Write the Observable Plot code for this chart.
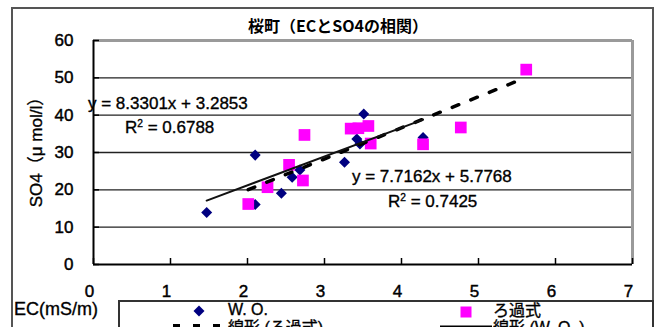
<!DOCTYPE html>
<html><head><meta charset="utf-8">
<script src="https://cdn.jsdelivr.net/npm/d3@7"></script>
<script src="https://cdn.jsdelivr.net/npm/@observablehq/plot@0.6"></script>
<style>
body{margin:0;background:#fff;}
#wrap{position:relative;width:656px;height:327px;overflow:hidden;background:#fff;font-family:"Liberation Sans",Arial,"Noto Sans CJK JP",sans-serif;color:#000;}
#wrap svg.plot{position:absolute;left:0;top:0;}
#wrap svg.plot text{stroke:#000;stroke-width:0.45px;paint-order:stroke;}
.t{position:absolute;white-space:nowrap;line-height:1;transform:translateY(-50%);-webkit-text-stroke:0.35px #000;}
.t sup{font-size:60%;vertical-align:0.55em;line-height:0;}
</style></head><body><div id="wrap"></div>
<script>
// ---- data ----
const xTicks = [0,1,2,3,4,5,6,7];
const yTicks = [0,10,20,30,40,50,60];
const yGrid = [10,20,30,40,50];
const woEC  = [1.47,2.10,2.10,2.44,2.58,2.68,3.26,3.42,3.46,3.51,4.28];
const woSO4 = [13.9,29.3,16.1,19.1,23.4,25.3,27.4,33.6,32.3,40.3,34.0];
const fEC   = [2.01,2.26,2.54,2.72,2.74,3.34,3.44,3.57,3.60,4.28,4.77,5.62];
const fSO4  = [16.2,20.7,26.7,22.5,34.7,36.4,36.5,37.1,32.4,32.2,36.7,52.2];
const seriesNames = ["W. O.","ろ過式"];
const fitNames = ["線形 (ろ過式)","線形 (W. O. )"];
const fitSlope = [7.7162, 8.3301];      // W.O., ろ過式
const fitIntercept = [5.7768, 3.2853];
const fitR2 = [0.7425, 0.6788];

const wo = woEC.map((x,i)=>({x, y: woSO4[i]}));
const fl = fEC.map((x,i)=>({x, y: fSO4[i]}));
function fitLine(xs, k){ return d3.extent(xs).map(x=>({x, y: fitSlope[k]*x + fitIntercept[k]})); }

const diamondSym = {draw(ctx, size){ const h = Math.sqrt(size/2); ctx.moveTo(0,-h); ctx.lineTo(h,0); ctx.lineTo(0,h); ctx.lineTo(-h,0); ctx.closePath(); }};

const chart = Plot.plot({
  width:656, height:327, marginLeft:93, marginRight:24, marginTop:40, marginBottom:63,
  style:{fontFamily:'"Liberation Sans",Arial,sans-serif', fontSize:"17px", color:"#000", background:"transparent", overflow:"visible"},
  x:{domain:[xTicks[0], xTicks[xTicks.length-1]]},
  y:{domain:[yTicks[0], yTicks[yTicks.length-1]]},
  marks:[
    Plot.ruleY(yGrid, {stroke:"#222", strokeWidth:1.3}),
    Plot.ruleY([yTicks[yTicks.length-1]], {stroke:"#9a9a9a", strokeWidth:3}),
    Plot.ruleX([xTicks[xTicks.length-1]], {stroke:"#9a9a9a", strokeWidth:3}),
    Plot.tickX(xTicks, {x:d=>d, insetTop:218, stroke:"#000", strokeWidth:1.5}),
    Plot.tickY(yTicks, {y:d=>d, insetRight:533, stroke:"#000", strokeWidth:1.5}),
    Plot.ruleX([xTicks[0]], {stroke:"#000", strokeWidth:2}),
    Plot.ruleY([yTicks[0]], {stroke:"#000", strokeWidth:2}),
    Plot.axisX(xTicks, {tickSize:0, tickPadding:20, dx:-4, label:null, fontSize:17}),
    Plot.axisY(yTicks, {tickSize:0, tickPadding:20, label:null, fontSize:17}),
    Plot.dot(wo, {x:"x", y:"y", symbol:diamondSym, r:4.4, fill:"#000080"}),
    Plot.dot(fl, {x:"x", y:"y", symbol:"square", r:6.6, fill:"#ff00ff"}),
    Plot.line(fitLine(fEC,1), {x:"x", y:"y", stroke:"#000", strokeWidth:3.5, strokeDasharray:"7,13"}),
    Plot.line(fitLine(woEC,0), {x:"x", y:"y", stroke:"#111", strokeWidth:2})
  ]
});
const wrap = document.getElementById("wrap");
chart.classList.add("plot");
wrap.appendChild(chart);

function addText(html, left, cy, style){
  const d = document.createElement("div");
  d.className = "t"; d.innerHTML = html;
  d.style.left = left + "px"; d.style.top = cy + "px";
  Object.assign(d.style, style||{});
  wrap.appendChild(d); return d;
}
function addBox(l,t,w,h,border){
  const d = document.createElement("div");
  Object.assign(d.style,{position:"absolute",left:l+"px",top:t+"px",width:w+"px",height:h+"px",border:border,boxSizing:"border-box"});
  wrap.appendChild(d); return d;
}
// outer chart border
addBox(11,7,643,400,"2px solid #555");
// title
addText("桜町（ECとSO4の相関）", 0, 25, {width:"656px", textAlign:"center", left:"10px", fontFamily:'"Noto Sans CJK JP",sans-serif', fontSize:"16px", fontWeight:"bold", webkitTextStroke:"0px"});
// y label
addText("SO4（μ mol/l）", 36, 148, {fontSize:"17px", transform:"translate(-50%,-50%) rotate(-90deg)"});
// x label
addText("EC(mS/m)", 14, 309, {fontSize:"18px"});
// equations
addText("y = " + fitSlope[1] + "x + " + fitIntercept[1], 88, 103, {fontSize:"17px"});
addText("R<sup>2</sup> = " + fitR2[1], 125, 127, {fontSize:"17px"});
addText("y = " + fitSlope[0] + "x + " + fitIntercept[0], 352, 176, {fontSize:"17px"});
addText("R<sup>2</sup> = " + fitR2[0], 388, 201, {fontSize:"17px"});
// legend
addBox(118,300,536,80,"2px solid #333");
const lg = document.createElementNS("http://www.w3.org/2000/svg","svg");
lg.setAttribute("width","656"); lg.setAttribute("height","327");
lg.style.cssText = "position:absolute;left:0;top:0;";
lg.innerHTML =
  '<path d="M199,305.5L204.5,311L199,316.5L193.5,311Z" fill="#000080"/>' +
  '<rect x="460.5" y="306.5" width="11" height="11" fill="#ff00ff"/>' +
  '<line x1="173" y1="326" x2="221" y2="326" stroke="#000" stroke-width="4" stroke-dasharray="7,13"/>' +
  '<line x1="440" y1="327" x2="492" y2="327" stroke="#000" stroke-width="3"/>';
wrap.appendChild(lg);
addText(seriesNames[0], 228, 310, {fontSize:"16px"});
addText(seriesNames[1], 493, 311, {fontSize:"16px"});
addText(fitNames[0], 228, 328, {fontSize:"16px"});
addText(fitNames[1], 493, 328, {fontSize:"16px"});
</script></body></html>
